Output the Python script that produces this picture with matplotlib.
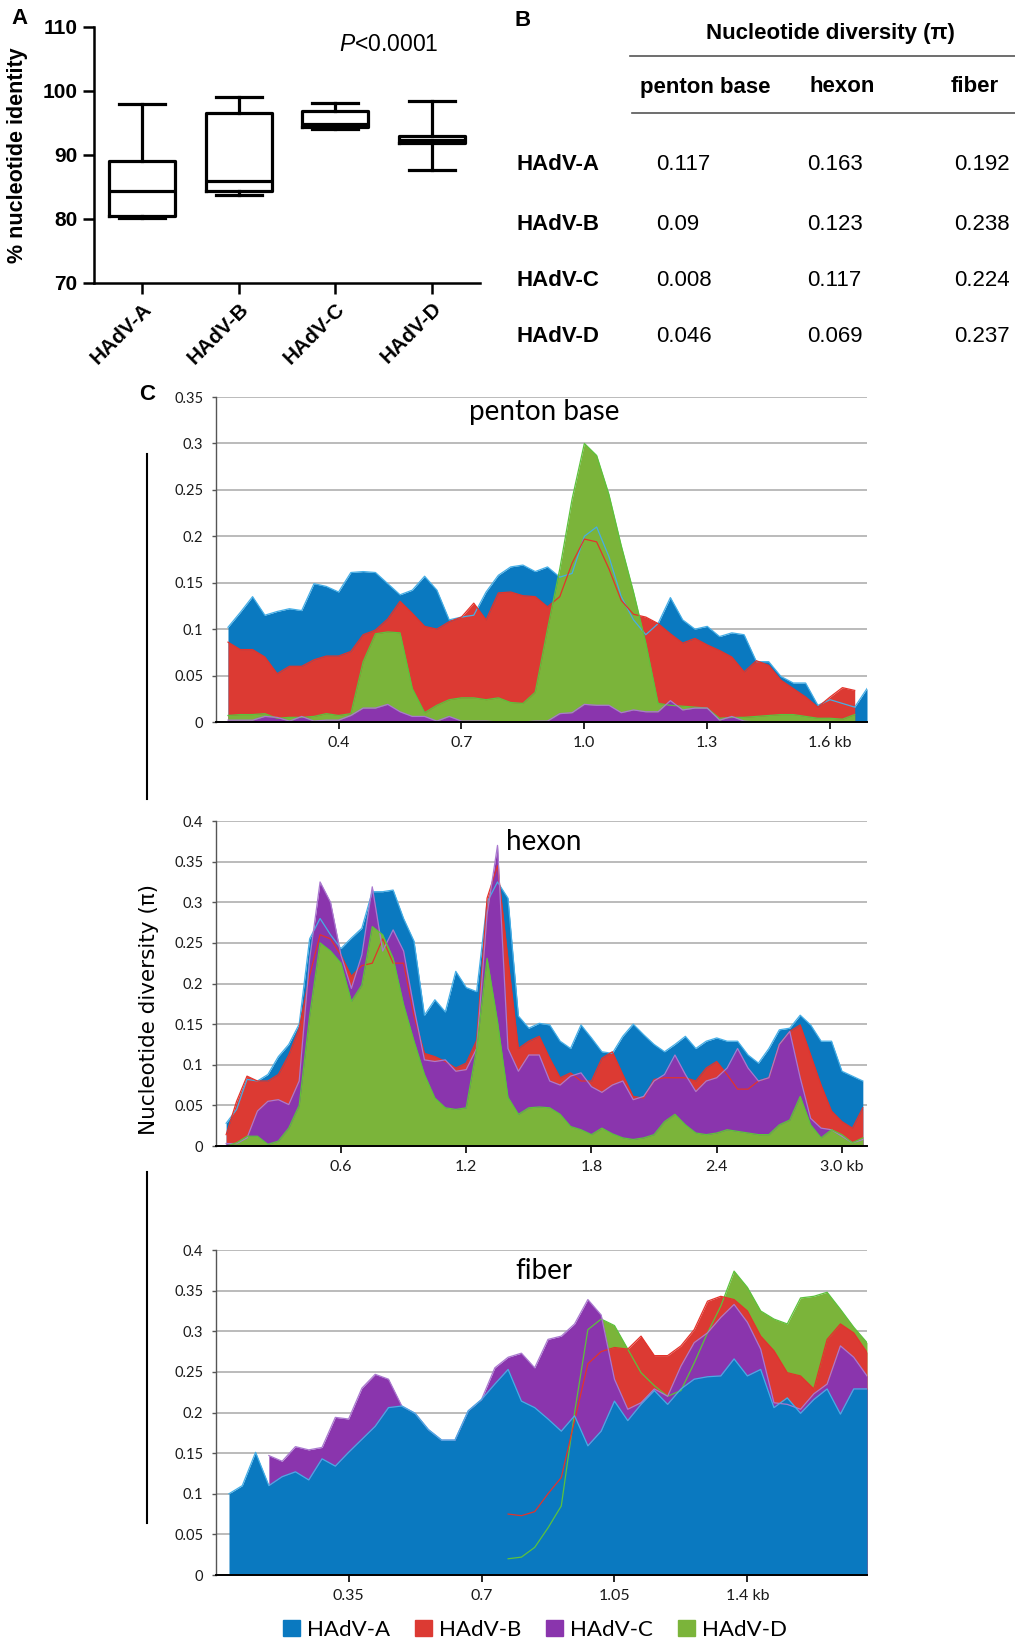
import matplotlib
matplotlib.use("Agg")
import matplotlib.pyplot as plt
import numpy as np
from matplotlib.lines import Line2D
from matplotlib.patches import Patch

plt.rcParams['font.family'] = ['Liberation Sans', 'DejaVu Sans']
plt.rcParams['mathtext.fontset'] = 'custom'
plt.rcParams['mathtext.it'] = 'Liberation Sans:italic'
plt.rcParams['mathtext.rm'] = 'Liberation Sans'

### ---------------- data ----------------
groups = ["HAdV-A", "HAdV-B", "HAdV-C", "HAdV-D"]

# panel A : % nucleotide identity (box plot)
box_whislo = [80.2, 83.7, 94.1, 87.6]
box_q1 = [80.5, 84.4, 94.3, 91.8]
box_med = [84.3, 86.0, 94.9, 92.3]
box_q3 = [89.0, 96.5, 96.9, 93.0]
box_whishi = [97.9, 99.0, 98.1, 98.4]

# panel B : nucleotide diversity table
genes = ["penton base", "hexon", "fiber"]
pi_penton = ["0.117", "0.09", "0.008", "0.046"]
pi_hexon = ["0.163", "0.123", "0.117", "0.069"]
pi_fiber = ["0.192", "0.238", "0.224", "0.237"]

nan = np.nan

# panel C : sliding window nucleotide diversity
penton_kb = np.linspace(0.13, 1.69, 53)
penton_A = [.102, .118, .135, .115, .119, .122, .120, .149, .146, .140,
            .161, .162, .161, .149, .137, .142, .157, .142, .110, .113,
            .115, .140, .158, .167, .169, .162, .167, .156, .160, .200,
            .210, .178, .135, .110, .094, .106, .134, .110, .100, .103,
            .092, .096, .094, .065, .065, .049, .042, .042, .018, .024,
            .020, .016, .036]
penton_B = [.086, .078, .078, .070, .052, .060, .060, .067, .071, .071,
            .076, .094, .099, .111, .130, .117, .103, .100, .108, .113,
            .128, .110, .139, .140, .136, .135, .124, .135, .171, .197,
            .194, .165, .131, .116, .113, .106, .095, .085, .090, .083,
            .077, .070, .054, .066, .061, .045, .036, .027, .016, .027,
            .037, .034, nan]
penton_C = [.002, .002, .002, .006, .005, .001, .006, .001, .002, .002,
            .007, .015, .015, .019, .011, .006, .006, .001, .006, .001,
            .001, .001, 0, 0, 0, .001, .001, .009, .010, .019,
            .018, .018, .010, .013, .011, .011, .023, .013, .015, .015,
            .002, .006, .001, 0, 0, 0, 0, 0, 0, 0,
            0, 0, nan]
penton_D = [.007, .008, .008, .009, .004, .005, .005, .006, .009, .007,
            .009, .065, .095, .097, .096, .036, .010, .018, .024, .026,
            .026, .024, .026, .021, .020, .032, .100, .165, .240, .300,
            .287, .245, .190, .140, .085, .020, .018, .017, .016, .015,
            .004, .005, .005, .006, .007, .008, .008, .006, .004, .004,
            .003, .008, nan]

hexon_kb = np.linspace(0.05, 3.10, 62)
hexon_A = [.028, .045, .082, .080, .088, .110, .125, .150, .255, .280,
           .260, .243, .256, .268, .313, .313, .315, .280, .252, .161,
           .180, .165, .215, .195, .190, .300, .325, .305, .160, .145,
           .151, .149, .129, .120, .149, .133, .116, .114, .135, .150,
           .137, .125, .116, .125, .135, .120, .129, .133, .129, .129,
           .112, .102, .120, .143, .145, .161, .149, .129, .129, .092,
           .086, .080]
hexon_B = [.014, .055, .086, .080, .080, .088, .112, .145, .210, .260,
           .255, .235, .209, .222, .225, .255, .225, .225, .160, .114,
           .110, .104, .096, .102, .130, .305, .345, .230, .120, .129,
           .135, .108, .084, .090, .080, .080, .108, .116, .088, .061,
           .059, .082, .084, .084, .084, .080, .096, .104, .088, .070,
           .070, .080, .084, .125, .141, .149, .112, .075, .043, .030,
           .022, .047]
hexon_C = [.003, .003, .010, .043, .055, .057, .051, .080, .230, .325,
           .300, .235, .194, .235, .319, .240, .266, .240, .170, .106,
           .104, .106, .092, .094, .120, .285, .370, .120, .092, .112,
           .112, .080, .075, .086, .090, .073, .066, .075, .080, .057,
           .061, .080, .088, .112, .088, .067, .080, .084, .096, .120,
           .096, .080, .084, .125, .141, .084, .034, .022, .020, .012,
           .004, .008]
hexon_D = [0, .004, .012, .012, .002, .006, .022, .050, .160, .250,
           .240, .225, .178, .198, .270, .260, .231, .174, .129, .088,
           .059, .047, .045, .047, .120, .231, .153, .060, .039, .047,
           .048, .047, .039, .024, .020, .014, .022, .015, .010, .008,
           .010, .014, .030, .039, .026, .016, .014, .016, .020, .018,
           .016, .014, .014, .026, .032, .061, .026, .010, .020, .014,
           .004, .010]

fiber_kb = np.linspace(0.035, 1.715, 49)
fiber_A = [.100, .110, .151, .110, .121, .127, .117, .143, .134, .151,
           .167, .183, .206, .208, .199, .179, .166, .166, .202, .216,
           .235, .253, .214, .206, .192, .177, .196, .159, .177, .214,
           .190, .210, .227, .210, .229, .241, .244, .245, .266, .245,
           .253, .206, .218, .199, .216, .229, .198, .229, .229]
fiber_B = [nan] * 21 + [.075, .073, .078, .100, .120, .190, .260, .275, .280,
                        .278, .294, .270, .270, .282, .302, .337, .343, .339, .325,
                        .294, .276, .249, .245, .229, .290, .309, .298, .274]
fiber_C = [nan, nan, nan, .147, .140, .158, .154, .157, .194, .192,
           .230, .247, .241, .208, .199, .179, .166, .166, .202, .216,
           .255, .268, .273, .255, .290, .294, .309, .339, .320, .241,
           .204, .212, .229, .220, .257, .286, .298, .317, .333, .311,
           .278, .212, .210, .204, .223, .235, .282, .268, .245]
fiber_D = [nan] * 21 + [.020, .022, .034, .058, .085, .200, .302, .315, .307,
                        .278, .249, .233, .220, .227, .261, .298, .331, .374, .354,
                        .325, .315, .309, .341, .343, .348, .327, .305, .286]

### ---------------- style ----------------
fill_col = {"A": "#0a79c0", "B": "#dc3a33", "C": "#8a35ad", "D": "#7bb43a"}
line_col = {"A": "#45aee6", "B": "#e3332b", "C": "#a979cf", "D": "#5cc23c"}
bold = dict(fontweight="bold")

W, H = 1015, 1644
fig = plt.figure(figsize=(W / 100, H / 100), dpi=100)


def fx(px):
    return px / W


def fy(py):
    return 1 - py / H


### ---------------- panel A ----------------
axA = fig.add_axes([fx(94), fy(283), fx(480) - fx(94), fy(27) - fy(283)])
stats = []
for i, g in enumerate(groups):
    stats.append(dict(label=g, whislo=box_whislo[i], q1=box_q1[i], med=box_med[i],
                      q3=box_q3[i], whishi=box_whishi[i], fliers=[]))
lp = dict(color="black", linewidth=2.3)
axA.bxp(stats, positions=[1, 2, 3, 4], widths=0.68, capwidths=0.48, showfliers=False,
        boxprops=lp, whiskerprops=lp, capprops=lp, medianprops=lp)
axA.set_xlim(0.5, 4.5)
axA.set_ylim(70, 110)
axA.set_yticks([70, 80, 90, 100, 110])
for s in ["top", "right"]:
    axA.spines[s].set_visible(False)
for s in ["left", "bottom"]:
    axA.spines[s].set_linewidth(1.8)
axA.tick_params(direction="out", length=8, width=1.8)
axA.tick_params(axis="y", labelsize=15, pad=4)
for lab in axA.get_yticklabels():
    lab.set_fontweight("bold")
axA.set_xticks([1, 2, 3, 4])
axA.set_xticklabels(groups, rotation=45, ha="right", rotation_mode="anchor",
                    fontsize=15, fontweight="bold")
axA.set_ylabel("% nucleotide identity", fontsize=15.5, **bold)
axA.yaxis.set_label_coords(-0.17, 0.5)
axA.text(3.55, 107.3, r"$\it{P}$<0.0001", ha="center", va="center", fontsize=16.5)
fig.text(fx(19), fy(18), "A", fontsize=16, ha="center", va="center", **bold)

### ---------------- panel B ----------------
fig.text(fx(523), fy(20), "B", fontsize=16, ha="center", va="center", **bold)
fig.text(fx(830), fy(33), "Nucleotide diversity (\u03c0)", fontsize=16,
         ha="center", va="center", **bold)
fig.add_artist(Line2D([fx(630), fx(1015)], [fy(56), fy(56)], color="#555555", lw=1.2))
fig.add_artist(Line2D([fx(632), fx(1015)], [fy(113), fy(113)], color="#555555", lw=1.2))
for g, cx in zip(genes, [705, 842, 975]):
    fig.text(fx(cx), fy(87), g, fontsize=16, ha="center", va="center", **bold)
for i, g in enumerate(groups):
    ry = [165, 224, 280, 336][i]
    fig.text(fx(517), fy(ry), g, fontsize=16, ha="left", va="center", **bold)
    for col, cx in zip([pi_penton, pi_hexon, pi_fiber], [656, 807, 954]):
        fig.text(fx(cx), fy(ry), col[i], fontsize=16, ha="left", va="center")

### ---------------- panel C ----------------
cfont = ["Lato", "DejaVu Sans"]


def area_panel(top_px, bot_px, kb, series, order, xmax, ymax, xticks, xlabels, title, ty):
    ax = fig.add_axes([fx(215.7), fy(bot_px), fx(867) - fx(215.7), fy(top_px) - fy(bot_px)])
    for z, key in enumerate(order):
        y = np.array(series[key], dtype=float)
        ax.fill_between(kb, 0, y, color=fill_col[key], lw=0, zorder=2 + z)
    for key in order:
        ax.plot(kb, series[key], color=line_col[key], lw=0.9, zorder=8)
    ax.set_xlim(0 if kb[0] < 0.1 else 0.1, xmax)
    ax.set_ylim(0, ymax)
    yt = np.arange(0, ymax + 0.001, 0.05)
    ax.set_yticks(yt)
    ax.set_yticklabels([f"{v:g}" for v in np.round(yt, 2)], family=cfont, fontsize=10.5,
                       color="#1a1a1a")
    ax.set_xticks(xticks)
    ax.set_xticklabels(xlabels, family=cfont, fontsize=11.5, color="#1a1a1a")
    ax.yaxis.grid(True, color="#a8a8a8", lw=1.1, zorder=0)
    ax.set_axisbelow(True)
    for s in ["top", "right"]:
        ax.spines[s].set_visible(False)
    ax.spines["left"].set_color("#555555")
    ax.spines["left"].set_linewidth(1.0)
    ax.spines["bottom"].set_color("black")
    ax.spines["bottom"].set_linewidth(1.4)
    ax.spines["bottom"].set_zorder(12)
    ax.tick_params(axis="y", direction="out", length=3, width=1, color="#555555", pad=6)
    ax.tick_params(axis="x", direction="out", length=5, width=1.2, pad=5)
    ax.text(0.504, ty, title, transform=ax.transAxes, ha="center", va="center",
            family=cfont, fontsize=20, zorder=20)
    return ax


area_panel(397, 722, penton_kb,
           {"A": penton_A, "B": penton_B, "C": penton_C, "D": penton_D},
           ["A", "B", "D", "C"], 1.69, 0.35,
           [0.4, 0.7, 1.0, 1.3, 1.6], ["0.4", "0.7", "1.0", "1.3", "1.6 kb"],
           "penton base", 0.954)
area_panel(821, 1146, hexon_kb,
           {"A": hexon_A, "B": hexon_B, "C": hexon_C, "D": hexon_D},
           ["A", "B", "C", "D"], 3.12, 0.4,
           [0.6, 1.2, 1.8, 2.4, 3.0], ["0.6", "1.2", "1.8", "2.4", "3.0 kb"],
           "hexon", 0.935)
area_panel(1250, 1575, fiber_kb,
           {"A": fiber_A, "B": fiber_B, "C": fiber_C, "D": fiber_D},
           ["D", "B", "C", "A"], 1.715, 0.4,
           [0.35, 0.7, 1.05, 1.4], ["0.35", "0.7", "1.05", "1.4 kb"],
           "fiber", 0.935)

fig.text(fx(147), fy(395), "C", fontsize=16, ha="center", va="center", **bold)
fig.text(fx(149), fy(1009), "Nucleotide diversity (\u03c0)", rotation=90, fontsize=15.5,
         ha="center", va="center", family=["DejaVu Sans"])
fig.add_artist(Line2D([fx(147), fx(147)], [fy(454), fy(799)], color="black", lw=1.5))
fig.add_artist(Line2D([fx(147), fx(147)], [fy(1172), fy(1523)], color="black", lw=1.5))

handles = [Patch(facecolor=fill_col[k], edgecolor=fill_col[k]) for k in "ABCD"]
fig.legend(handles, groups, loc="center", bbox_to_anchor=(0.527, 0.0085), ncol=4,
           frameon=False, prop=dict(family=cfont, size=16), handlelength=0.75,
           handleheight=0.75, handletextpad=0.3, columnspacing=1.15, borderpad=0)

fig.savefig("out.png", dpi=100)
